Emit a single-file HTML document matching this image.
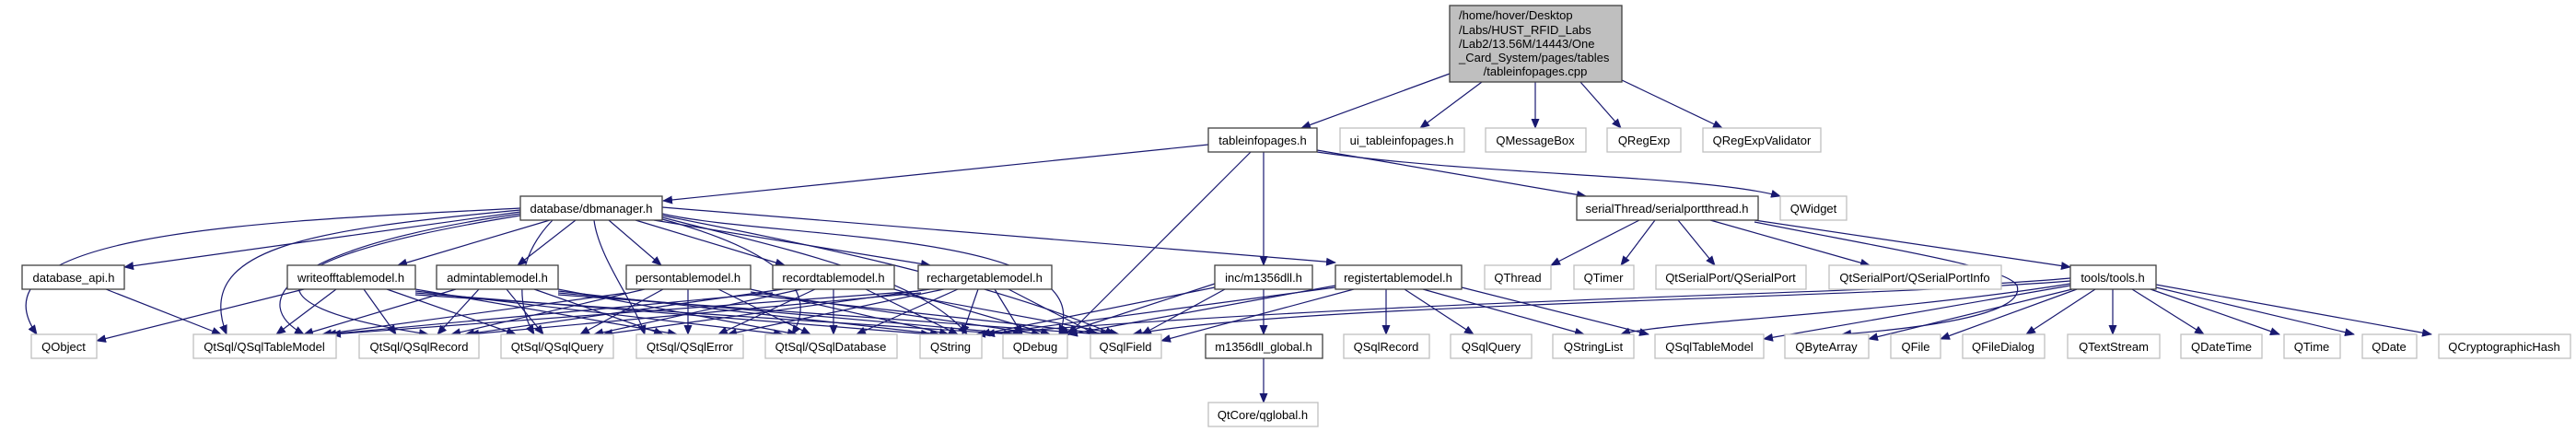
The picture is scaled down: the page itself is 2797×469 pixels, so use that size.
<!DOCTYPE html>
<html><head><meta charset="utf-8"><style>
html,body{margin:0;padding:0;background:#fff;}
svg{display:block}
text{font-family:"Liberation Sans",Arial,sans-serif;font-size:13px;fill:#000}
.n rect{fill:#fff;stroke:#404040;stroke-width:1.3}
.g rect{fill:#fff;stroke:#bfbfbf;stroke-width:1.3}
.e path{fill:none;stroke:#191970;stroke-width:1.2}
</style></head><body>
<svg width="2797" height="469" viewBox="0 0 2797 469" xmlns="http://www.w3.org/2000/svg">
<defs><marker id="a" markerWidth="11" markerHeight="9" refX="10" refY="4.5" orient="auto" markerUnits="userSpaceOnUse"><path d="M0,0 L11,4.5 L0,9z" fill="#191970"/></marker></defs>
<g class="e" marker-end="url(#a)">
<!-- top -->
<path d="M1574,80 L1413,139" marker-end="url(#a)"/>
<path d="M1609,89 L1542,139" marker-end="url(#a)"/>
<path d="M1667,89 L1667,139" marker-end="url(#a)"/>
<path d="M1716,89 L1760,139" marker-end="url(#a)"/>
<path d="M1761,87 L1870,139" marker-end="url(#a)"/>
<!-- tableinfopages.h -->
<path d="M1312,157 L720,218" marker-end="url(#a)"/>
<path d="M1430,163 L1722,213" marker-end="url(#a)"/>
<path d="M1430,165 C1600,190 1850,190 1933,213" marker-end="url(#a)"/>
<path d="M1372,165 L1372,288" marker-end="url(#a)"/>
<path d="M1358,165 L1160,363" marker-end="url(#a)"/>
<!-- dbmanager -->
<path d="M565,230 L135,290" marker-end="url(#a)"/>
<path d="M597,239 L432,288" marker-end="url(#a)"/>
<path d="M625,239 L562,288" marker-end="url(#a)"/>
<path d="M661,239 L718,288" marker-end="url(#a)"/>
<path d="M690,239 L852,288" marker-end="url(#a)"/>
<path d="M710,239 L1010,288" marker-end="url(#a)"/>
<path d="M719,225 L1450,285" marker-end="url(#a)"/>
<path d="M565,226 C300,240 -40,250 40,363" marker-end="url(#a)"/>
<path d="M565,228 C330,250 210,270 246,363" marker-end="url(#a)"/>
<path d="M565,232 C300,270 270,330 330,363" marker-end="url(#a)"/>
<path d="M565,234 C280,280 250,330 465,363" marker-end="url(#a)"/>
<path d="M645,239 C650,280 690,330 700,363" marker-end="url(#a)"/>
<path d="M719,232 C840,260 1200,250 1150,363" marker-end="url(#a)"/>
<path d="M719,234 C850,260 1060,300 1210,363" marker-end="url(#a)"/>
<path d="M719,236 C850,270 1000,300 1050,363" marker-end="url(#a)"/>
<path d="M719,238 C800,260 900,300 860,363" marker-end="url(#a)"/>
<path d="M600,239 C560,280 560,330 580,363" marker-end="url(#a)"/>
<!-- database_api -->
<path d="M115,314 L240,363" marker-end="url(#a)"/>
<!-- writeoff -->
<path d="M330,314 L105,370" marker-end="url(#a)"/>
<path d="M365,314 L300,363" marker-end="url(#a)"/>
<path d="M395,314 L430,363" marker-end="url(#a)"/>
<path d="M420,314 L560,363" marker-end="url(#a)"/>
<path d="M451,314 L735,363" marker-end="url(#a)"/>
<path d="M451,316 L850,363" marker-end="url(#a)"/>
<path d="M451,318 L1010,363" marker-end="url(#a)"/>
<path d="M451,320 L1100,363" marker-end="url(#a)"/>
<!-- admin -->
<path d="M495,314 L330,363" marker-end="url(#a)"/>
<path d="M520,314 L475,363" marker-end="url(#a)"/>
<path d="M550,314 L590,363" marker-end="url(#a)"/>
<path d="M580,314 L720,363" marker-end="url(#a)"/>
<path d="M606,314 L865,363" marker-end="url(#a)"/>
<path d="M606,316 L1020,363" marker-end="url(#a)"/>
<path d="M606,318 L1110,363" marker-end="url(#a)"/>
<path d="M606,320 L1195,363" marker-end="url(#a)"/>
<!-- person -->
<path d="M680,318 L350,363" marker-end="url(#a)"/>
<path d="M700,314 L490,363" marker-end="url(#a)"/>
<path d="M720,314 L630,363" marker-end="url(#a)"/>
<path d="M747,314 L747,363" marker-end="url(#a)"/>
<path d="M780,314 L880,363" marker-end="url(#a)"/>
<path d="M815,314 L1030,363" marker-end="url(#a)"/>
<path d="M815,317 L1130,363" marker-end="url(#a)"/>
<path d="M815,320 L1205,363" marker-end="url(#a)"/>
<!-- record -->
<path d="M839,318 L355,363" marker-end="url(#a)"/>
<path d="M850,314 L505,363" marker-end="url(#a)"/>
<path d="M870,314 L645,363" marker-end="url(#a)"/>
<path d="M885,314 L780,363" marker-end="url(#a)"/>
<path d="M905,314 L905,363" marker-end="url(#a)"/>
<path d="M940,314 L1040,363" marker-end="url(#a)"/>
<path d="M971,314 L1140,363" marker-end="url(#a)"/>
<path d="M971,318 L1215,363" marker-end="url(#a)"/>
<!-- recharge -->
<path d="M997,316 L360,363" marker-end="url(#a)"/>
<path d="M1000,318 L510,363" marker-end="url(#a)"/>
<path d="M1010,314 L655,363" marker-end="url(#a)"/>
<path d="M1025,314 L790,363" marker-end="url(#a)"/>
<path d="M1040,314 L930,363" marker-end="url(#a)"/>
<path d="M1062,314 L1045,363" marker-end="url(#a)"/>
<path d="M1080,314 L1110,363" marker-end="url(#a)"/>
<path d="M1095,314 L1190,363" marker-end="url(#a)"/>
<!-- m1356dll -->
<path d="M1372,314 L1372,363" marker-end="url(#a)"/>
<path d="M1319,308 L1150,363" marker-end="url(#a)"/>
<path d="M1330,314 L1240,363" marker-end="url(#a)"/>
<path d="M1319,312 L1065,363" marker-end="url(#a)"/>
<!-- register -->
<path d="M1505,314 L1505,363" marker-end="url(#a)"/>
<path d="M1525,314 L1600,363" marker-end="url(#a)"/>
<path d="M1545,314 L1720,363" marker-end="url(#a)"/>
<path d="M1587,312 L1790,363" marker-end="url(#a)"/>
<path d="M1470,314 L1261,370" marker-end="url(#a)"/>
<path d="M1450,310 L1160,363" marker-end="url(#a)"/>
<path d="M1450,312 L1070,363" marker-end="url(#a)"/>
<!-- m1356dll_global -->
<path d="M1372,389 L1372,437" marker-end="url(#a)"/>
<!-- serialport -->
<path d="M1780,239 L1684,288" marker-end="url(#a)"/>
<path d="M1797,239 L1760,288" marker-end="url(#a)"/>
<path d="M1822,239 L1862,288" marker-end="url(#a)"/>
<path d="M1857,239 L2030,288" marker-end="url(#a)"/>
<path d="M1905,239 L2248,290" marker-end="url(#a)"/>
<path d="M1905,241 C2050,270 2180,290 2190,310 C2200,340 2100,355 2000,363" marker-end="url(#a)"/>
<!-- tools -->
<path d="M2248,305 C2000,325 1400,330 1230,363" marker-end="url(#a)"/>
<path d="M2248,302 C2050,320 1600,320 1060,363" marker-end="url(#a)"/>
<path d="M2248,308 C2050,340 1800,350 1760,363" marker-end="url(#a)"/>
<path d="M2248,310 L1915,368" marker-end="url(#a)"/>
<path d="M2250,314 L2029,368" marker-end="url(#a)"/>
<path d="M2255,314 L2107,368" marker-end="url(#a)"/>
<path d="M2275,314 L2200,363" marker-end="url(#a)"/>
<path d="M2294,314 L2294,363" marker-end="url(#a)"/>
<path d="M2315,314 L2393,363" marker-end="url(#a)"/>
<path d="M2335,314 L2475,363" marker-end="url(#a)"/>
<path d="M2341,312 L2556,363" marker-end="url(#a)"/>
<path d="M2341,309 L2640,363" marker-end="url(#a)"/>
</g>
<!-- top node -->
<g><rect x="1574" y="6" width="187" height="83" fill="#bfbfbf" stroke="#404040" stroke-width="1.3"/>
<text x="1584" y="21">/home/hover/Desktop</text>
<text x="1584" y="37">/Labs/HUST_RFID_Labs</text>
<text x="1584" y="52">/Lab2/13.56M/14443/One</text>
<text x="1584" y="67">_Card_System/pages/tables</text>
<text x="1667" y="82" text-anchor="middle">/tableinfopages.cpp</text></g>
<g text-anchor="middle">
<g class="n">
<rect x="1312" y="139" width="118" height="26"/><text x="1371" y="157">tableinfopages.h</text>
<rect x="565" y="213" width="154" height="26"/><text x="642" y="231">database/dbmanager.h</text>
<rect x="1712" y="213" width="197" height="26"/><text x="1810" y="231">serialThread/serialportthread.h</text>
<rect x="24" y="288" width="111" height="26"/><text x="80" y="306">database_api.h</text>
<rect x="312" y="288" width="139" height="26"/><text x="381" y="306">writeofftablemodel.h</text>
<rect x="474" y="288" width="132" height="26"/><text x="540" y="306">admintablemodel.h</text>
<rect x="680" y="288" width="135" height="26"/><text x="747" y="306">persontablemodel.h</text>
<rect x="839" y="288" width="132" height="26"/><text x="905" y="306">recordtablemodel.h</text>
<rect x="997" y="288" width="145" height="26"/><text x="1069" y="306">rechargetablemodel.h</text>
<rect x="1319" y="288" width="106" height="26"/><text x="1372" y="306">inc/m1356dll.h</text>
<rect x="1450" y="288" width="137" height="26"/><text x="1518" y="306">registertablemodel.h</text>
<rect x="2248" y="288" width="93" height="26"/><text x="2294" y="306">tools/tools.h</text>
<rect x="1309" y="363" width="127" height="26"/><text x="1372" y="381">m1356dll_global.h</text>
</g>
<g class="g">
<rect x="1455" y="139" width="135" height="26"/><text x="1522" y="157">ui_tableinfopages.h</text>
<rect x="1613" y="139" width="109" height="26"/><text x="1667" y="157">QMessageBox</text>
<rect x="1745" y="139" width="80" height="26"/><text x="1785" y="157">QRegExp</text>
<rect x="1849" y="139" width="128" height="26"/><text x="1913" y="157">QRegExpValidator</text>
<rect x="1933" y="213" width="72" height="26"/><text x="1969" y="231">QWidget</text>
<rect x="1612" y="288" width="72" height="26"/><text x="1648" y="306">QThread</text>
<rect x="1709" y="288" width="65" height="26"/><text x="1741" y="306">QTimer</text>
<rect x="1798" y="288" width="163" height="26"/><text x="1879" y="306">QtSerialPort/QSerialPort</text>
<rect x="1986" y="288" width="187" height="26"/><text x="2079" y="306">QtSerialPort/QSerialPortInfo</text>
<rect x="34" y="363" width="71" height="26"/><text x="69" y="381">QObject</text>
<rect x="210" y="363" width="155" height="26"/><text x="287" y="381">QtSql/QSqlTableModel</text>
<rect x="390" y="363" width="130" height="26"/><text x="455" y="381">QtSql/QSqlRecord</text>
<rect x="544" y="363" width="122" height="26"/><text x="605" y="381">QtSql/QSqlQuery</text>
<rect x="691" y="363" width="116" height="26"/><text x="749" y="381">QtSql/QSqlError</text>
<rect x="831" y="363" width="143" height="26"/><text x="902" y="381">QtSql/QSqlDatabase</text>
<rect x="999" y="363" width="67" height="26"/><text x="1032" y="381">QString</text>
<rect x="1089" y="363" width="70" height="26"/><text x="1124" y="381">QDebug</text>
<rect x="1184" y="363" width="77" height="26"/><text x="1222" y="381">QSqlField</text>
<rect x="1459" y="363" width="93" height="26"/><text x="1505" y="381">QSqlRecord</text>
<rect x="1575" y="363" width="88" height="26"/><text x="1619" y="381">QSqlQuery</text>
<rect x="1686" y="363" width="88" height="26"/><text x="1730" y="381">QStringList</text>
<rect x="1797" y="363" width="118" height="26"/><text x="1856" y="381">QSqlTableModel</text>
<rect x="1938" y="363" width="91" height="26"/><text x="1983" y="381">QByteArray</text>
<rect x="2053" y="363" width="54" height="26"/><text x="2080" y="381">QFile</text>
<rect x="2131" y="363" width="89" height="26"/><text x="2175" y="381">QFileDialog</text>
<rect x="2245" y="363" width="100" height="26"/><text x="2295" y="381">QTextStream</text>
<rect x="2368" y="363" width="88" height="26"/><text x="2412" y="381">QDateTime</text>
<rect x="2480" y="363" width="61" height="26"/><text x="2510" y="381">QTime</text>
<rect x="2565" y="363" width="59" height="26"/><text x="2594" y="381">QDate</text>
<rect x="2648" y="363" width="143" height="26"/><text x="2719" y="381">QCryptographicHash</text>
<rect x="1312" y="437" width="119" height="26"/><text x="1371" y="455">QtCore/qglobal.h</text>
</g>
</g>
</svg>
</body></html>
